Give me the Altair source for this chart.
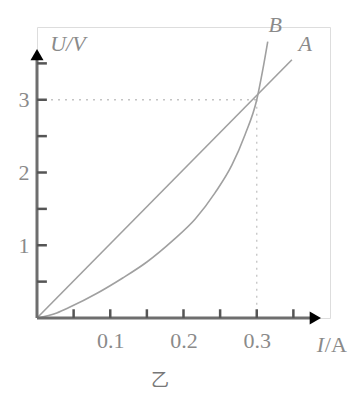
import altair as alt
import pandas as pd

# Line A (straight) and curve B
a_I = [0.0, 0.348]
a_U = [0.0, 3.55]
b_I = [0.0, 0.027, 0.045, 0.082, 0.117, 0.150, 0.186, 0.216, 0.243, 0.266, 0.284, 0.300, 0.308, 0.315]
b_U = [0.0, 0.07, 0.15, 0.34, 0.55, 0.77, 1.07, 1.36, 1.72, 2.10, 2.52, 3.00, 3.40, 3.80]

x_ticks = [0.05, 0.10, 0.15, 0.20, 0.25, 0.30, 0.35]
y_ticks = [0.5, 1.0, 1.5, 2.0, 2.5, 3.0, 3.5]
x_labels = [0.1, 0.2, 0.3]
y_labels = [1, 2, 3]

guide_I = 0.3
guide_U = 3.0
x_axis_end = 0.38
y_axis_end = 3.62

XS = alt.Scale(domain=[0, 0.4], nice=False)
YS = alt.Scale(domain=[0, 4.0], nice=False)
serif = "Liberation Serif"
grey_txt = "#8a8a8a"

curves = pd.DataFrame({
    "I": a_I + b_I,
    "U": a_U + b_U,
    "s": ["A"] * len(a_I) + ["B"] * len(b_I),
})

lines = alt.Chart(curves).mark_line(
    interpolate="monotone", color="#a0a0a0", strokeWidth=1.6
).encode(
    x=alt.X("I:Q", scale=XS, axis=alt.Axis(
        values=x_labels, format=".1f", domain=False, ticks=False, grid=False,
        labelFont=serif, labelFontSize=22, labelColor=grey_txt, labelPadding=12, title=None)),
    y=alt.Y("U:Q", scale=YS, axis=alt.Axis(
        values=y_labels, format="d", domain=False, ticks=False, grid=False,
        labelFont=serif, labelFontSize=22, labelColor=grey_txt, labelPadding=8, title=None)),
    detail="s:N",
)

guides = pd.DataFrame({
    "I": [0.0, guide_I],
    "U": [guide_U, guide_U],
    "I2": [guide_I, guide_I],
    "U2": [guide_U, 0.0],
})
dotted = alt.Chart(guides).mark_rule(
    color="#c4c4c4", strokeWidth=1.3, strokeDash=[2, 5]
).encode(x=alt.X("I:Q", scale=XS), y=alt.Y("U:Q", scale=YS), x2="I2:Q", y2="U2:Q")

axes_df = pd.DataFrame({
    "I": [0.0, 0.0], "U": [0.0, 0.0],
    "I2": [x_axis_end, 0.0], "U2": [0.0, y_axis_end],
})
axis_lines = alt.Chart(axes_df).mark_rule(color="#6e6e6e", strokeWidth=3).encode(
    x=alt.X("I:Q", scale=XS), y=alt.Y("U:Q", scale=YS), x2="I2:Q", y2="U2:Q")

xt = pd.DataFrame({"I": x_ticks, "U": [0.0] * len(x_ticks), "U2": [0.12] * len(x_ticks)})
x_tick_marks = alt.Chart(xt).mark_rule(color="#555555", strokeWidth=2.5).encode(
    x=alt.X("I:Q", scale=XS), y=alt.Y("U:Q", scale=YS), y2="U2:Q")
yt = pd.DataFrame({"U": y_ticks, "I": [0.0] * len(y_ticks), "I2": [0.0135] * len(y_ticks)})
y_tick_marks = alt.Chart(yt).mark_rule(color="#555555", strokeWidth=2.5).encode(
    y=alt.Y("U:Q", scale=YS), x=alt.X("I:Q", scale=XS), x2="I2:Q")

arr_r = alt.Chart(pd.DataFrame({"I": [x_axis_end], "U": [0.0]})).mark_point(
    shape="triangle-right", filled=True, color="black", size=170, opacity=1
).encode(x=alt.X("I:Q", scale=XS), y=alt.Y("U:Q", scale=YS))
arr_u = alt.Chart(pd.DataFrame({"I": [0.0], "U": [y_axis_end]})).mark_point(
    shape="triangle-up", filled=True, color="black", size=170, opacity=1
).encode(x=alt.X("I:Q", scale=XS), y=alt.Y("U:Q", scale=YS))

italic_labels = pd.DataFrame({
    "t": ["U/V", "A", "B", "I"],
    "I": [0.018, 0.357, 0.316, 0.382],
    "U": [3.76, 3.76, 4.03, -0.37],
})
it_text = alt.Chart(italic_labels).mark_text(
    font=serif, fontStyle="italic", fontSize=22, color=grey_txt, align="left", baseline="middle"
).encode(x=alt.X("I:Q", scale=XS), y=alt.Y("U:Q", scale=YS), text="t:N")

up_labels = pd.DataFrame({"t": ["/A"], "I": [0.393], "U": [-0.37]})
up_text = alt.Chart(up_labels).mark_text(
    font=serif, fontSize=22, color=grey_txt, align="left", baseline="middle"
).encode(x=alt.X("I:Q", scale=XS), y=alt.Y("U:Q", scale=YS), text="t:N")

cap = pd.DataFrame({"t": ["乙"], "I": [0.168], "U": [-0.86]})
cap_text = alt.Chart(cap).mark_text(
    font="Noto Sans CJK SC", fontSize=18, color="#777777", align="center", baseline="middle"
).encode(x=alt.X("I:Q", scale=XS), y=alt.Y("U:Q", scale=YS), text="t:N")

chart = alt.layer(
    dotted, lines, axis_lines, x_tick_marks, y_tick_marks, arr_r, arr_u,
    it_text, up_text, cap_text
).properties(
    width=293, height=291,
    autosize=alt.AutoSizeParams(type="none"),
    padding={"left": 29, "top": 19, "right": 20, "bottom": 73},
).configure_view(stroke=None).configure(background="white")

chart.save("out.html", embed_options={"renderer": "svg", "actions": False})
